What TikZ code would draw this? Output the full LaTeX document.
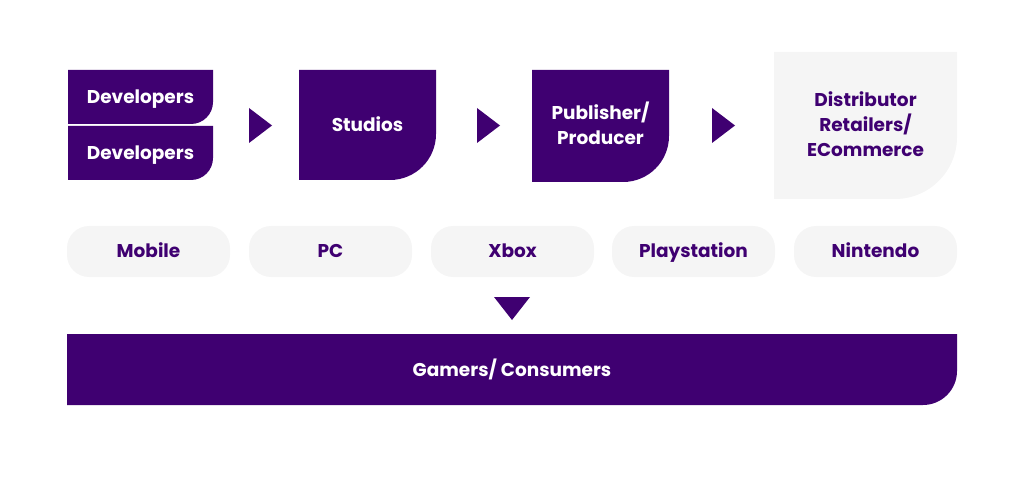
\documentclass[tikz,border=0pt]{standalone}
\usepackage{fontspec}
\setmainfont{Poppins}
\usepackage{tikz}

\definecolor{gpurple}{HTML}{3F0071}
\definecolor{ggray}{HTML}{F5F5F5}

\tikzset{
  % box with one rounded corner (bottom right)
  cornerbox/.style 2 args={inner sep=0pt, align=center,
    font=\fontsize{18.5}{25}\selectfont\bfseries,
    text height=13pt, text depth=0pt,
    path picture={\fill[#1] (path picture bounding box.south west)
      |- (path picture bounding box.north east)
      -- ([yshift=#2]path picture bounding box.south east)
      arc[start angle=0, end angle=-90, radius=#2] -- cycle;}},
  pill/.style={fill=ggray, rounded corners=22pt, minimum width=163pt,
    minimum height=51pt, inner sep=0pt, text=gpurple,
    text height=13pt, text depth=0pt,
    font=\fontsize{18.5}{25}\selectfont\bfseries}
}

\begin{document}
\begin{tikzpicture}[x=1pt,y=1pt]
  \useasboundingbox (0,0) rectangle (1024,477);
  % top row
  \node[cornerbox={gpurple}{22pt}, text=white, minimum width=145pt,
    minimum height=54pt] (dev1) at (140.5,380) {Developers};
  \node[cornerbox={gpurple}{22pt}, text=white, minimum width=145pt,
    minimum height=54pt] (dev2) at (140.5,324) {Developers};
  \node[cornerbox={gpurple}{46pt}, text=white, minimum width=137pt,
    minimum height=110pt] (studios) at (367.5,352) {Studios};
  \node[cornerbox={gpurple}{46pt}, text=white, minimum width=137pt,
    minimum height=112pt, text height=38pt] (publisher) at (600.5,351)
    {Publisher/\\Producer};
  \node[cornerbox={ggray}{62pt}, text=gpurple, minimum width=183pt,
    minimum height=147pt, text height=63pt] (distributor) at (865.5,351.5)
    {Distributor\\Retailers/\\ECommerce};
  % arrow heads between the boxes
  \foreach \x in {249,477,712}{
    \fill[gpurple] (\x,369) -- (\x+23,351.5) -- (\x,334) -- cycle;
  }
  % platforms
  \foreach \x/\name/\label in {148.5/mobile/Mobile, 330.5/pc/PC,
    512.5/xbox/Xbox, 693.5/playstation/Playstation, 875.5/nintendo/Nintendo}{
    \node[pill] (\name) at (\x,225.5) {\label};
  }
  % down arrow
  \fill[gpurple] (494,180) -- (530,180) -- (512,157) -- cycle;
  % bottom bar
  \node[cornerbox={gpurple}{34pt}, text=white, minimum width=890pt,
    minimum height=71pt] (gamers) at (512,107.5) {Gamers/ Consumers};
\end{tikzpicture}
\end{document}
